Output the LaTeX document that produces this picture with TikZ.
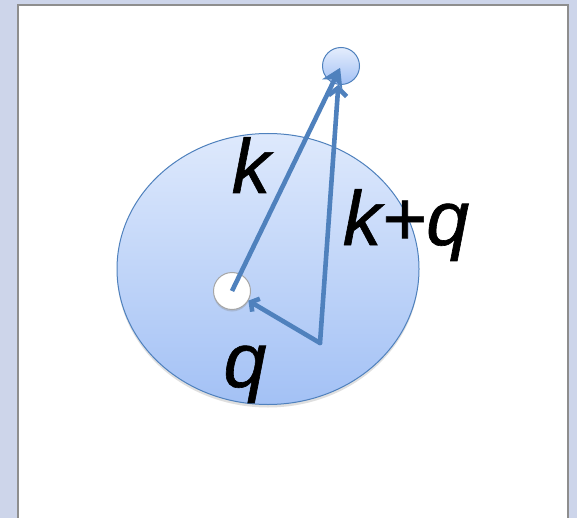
\documentclass[tikz,border=0pt]{standalone}
\usepackage{fontspec}
\setmainfont{Liberation Sans}
\newfontfamily\lblfont[FakeBold=0.8]{Liberation Sans}
\usetikzlibrary{arrows.meta,shapes.geometric,shadows}
\definecolor{bgl}{HTML}{CDD5EA}
\definecolor{frame}{HTML}{8E8E8E}
\definecolor{acc}{HTML}{4F81BD}
\definecolor{topc}{HTML}{DEE9FC}
\definecolor{botc}{HTML}{A3C1F5}
\tikzset{
  vec/.style={draw=acc, line width=4.6pt},
  lbl/.style={font=\lblfont\fontsize{77}{77}\selectfont\itshape, inner sep=0pt, anchor=base, text=black},
}
\begin{document}
\begin{tikzpicture}[x=1pt,y=-1pt]
\useasboundingbox (0,0) rectangle (577,518);
\fill[bgl] (0,0) rectangle (577,518);
\draw[frame, line width=1.5pt, fill=white] (18,5) rectangle (568,530);
% big sphere
\node[ellipse, minimum width=302pt, minimum height=271pt, inner sep=0pt,
      draw=acc, line width=1pt, top color=topc, bottom color=botc,
      drop shadow={shadow xshift=0pt, shadow yshift=-3pt, opacity=0.25}] (sphere) at (268,269) {};
% labels
\node[lbl] (lk) at (251,193) {k};
\node[lbl] (lkq) at (406,245) {k+q};
\node[lbl] (lq) at (245,387) {q};
% end point circle
\node[circle, minimum size=37pt, inner sep=0pt, draw=acc, line width=1pt,
      top color=topc!80!white, bottom color=botc] (top) at (341,66) {};
% origin circle
\node[circle, minimum size=37pt, inner sep=0pt, draw=gray!70, line width=1pt, fill=white,
      drop shadow={shadow xshift=0pt, shadow yshift=-2pt, opacity=0.3}] (orig) at (232,291) {};
\coordinate (v) at (320,343);
% vectors
\draw[vec, -{Stealth[length=18pt, width=22pt, inset=5pt]}, shorten >=2pt] (orig.center) -- (top.center);
\draw[vec, line cap=round, -{Straight Barb[length=8pt, width=18pt]}] (v) -- (top.262);
\draw[vec, line cap=round, -{Straight Barb[length=6pt, width=15pt]}] (v) -- (orig);
\end{tikzpicture}
\end{document}
